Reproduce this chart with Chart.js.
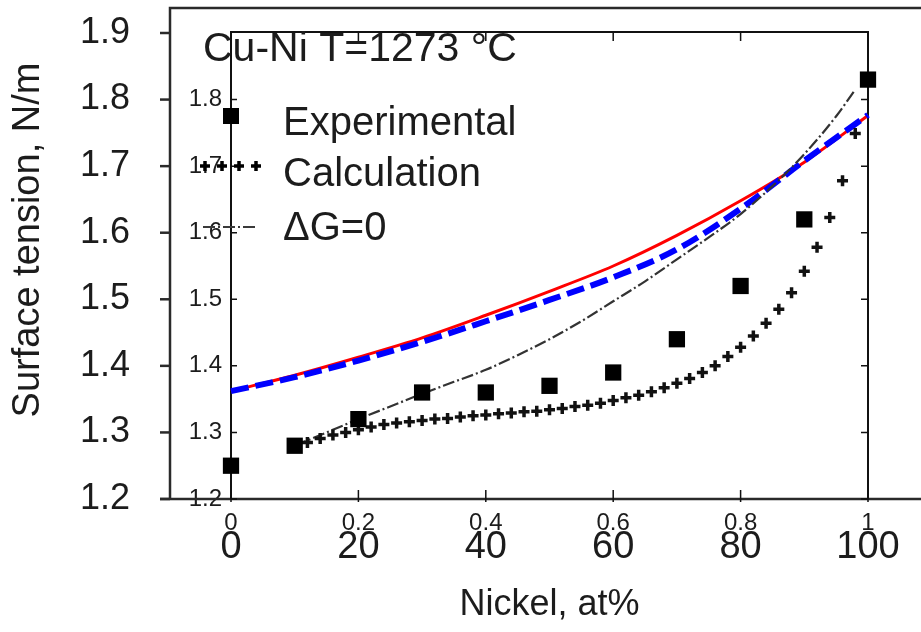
<!DOCTYPE html>
<html>
<head>
<meta charset="utf-8">
<script src="https://cdn.jsdelivr.net/npm/chart.js@4.4.1/dist/chart.umd.min.js"></script>
<style>
  html, body { margin: 0; padding: 0; background: #fff; }
  #wrap { width: 921px; height: 632px; }
</style>
</head>
<body>
<div id="wrap"><canvas id="c" width="921" height="632"></canvas></div>
<script>
// Surface tension of liquid Cu-Ni alloys, T = 1273 °C
const nickelExp  = [0, 10, 20, 30, 40, 50, 60, 70, 80, 90, 100];
const sigmaExp   = [1.25, 1.28, 1.32, 1.36, 1.36, 1.37, 1.39, 1.44, 1.52, 1.62, 1.83];

const nickelCalc = [10, 12, 14, 16, 18, 20, 22, 24, 26, 28, 30, 32, 34, 36, 38, 40, 42, 44, 46, 48,
                    50, 52, 54, 56, 58, 60, 62, 64, 66, 68, 70, 72, 74, 76, 78, 80, 82, 84, 86, 88,
                    90, 92, 94, 96, 98, 100];
const sigmaCalc  = [1.280, 1.285, 1.291, 1.296, 1.300, 1.304, 1.308, 1.312, 1.314, 1.316,
                    1.318, 1.320, 1.321, 1.323, 1.325, 1.326, 1.328, 1.329, 1.331, 1.332,
                    1.334, 1.336, 1.339, 1.341, 1.344, 1.348, 1.352, 1.356, 1.361, 1.367,
                    1.374, 1.381, 1.390, 1.400, 1.414, 1.428, 1.445, 1.464, 1.485, 1.510,
                    1.542, 1.578, 1.623, 1.678, 1.749, 1.830];

const nickelDG0  = [10, 15, 20, 25, 30, 35, 40, 45, 50, 55, 60, 65, 70, 75, 80, 85, 90, 95, 98];
const sigmaDG0   = [1.280, 1.300, 1.320, 1.339, 1.358, 1.376, 1.394, 1.416, 1.440, 1.467,
                    1.497, 1.527, 1.560, 1.593, 1.628, 1.670, 1.718, 1.775, 1.815];

const nickelModel = [0, 10, 20, 30, 40, 50, 60, 70, 80, 90, 100];
const sigmaRed    = [1.362, 1.386, 1.413, 1.442, 1.476, 1.512, 1.550, 1.596, 1.648, 1.706, 1.776];
const sigmaBlue   = [1.362, 1.383, 1.408, 1.436, 1.467, 1.499, 1.533, 1.575, 1.636, 1.708, 1.777];

const outerYTicks = ['1.2', '1.3', '1.4', '1.5', '1.6', '1.7', '1.8', '1.9'];
const innerYTicks = ['1.2', '1.3', '1.4', '1.5', '1.6', '1.7', '1.8'];
const outerXTicks = ['0', '20', '40', '60', '80', '100'];
const innerXTicks = ['0', '0.2', '0.4', '0.6', '0.8', '1'];

const FONT = '"Liberation Sans", Arial, Helvetica, sans-serif';
const INK = '#1c1c1c';

const pts = (xs, ys) => xs.map((x, i) => ({ x: x, y: ys[i] }));

function fixedTicks(labels, factor) {
  return function (scale) {
    scale.ticks = labels.map(t => ({ value: parseFloat(t) * factor }));
  };
}

// axis boxes keep a fixed size and ask for no extra margin
function fixedWidth(w) {
  return function (s) { s.width = w; s.paddingTop = 0; s.paddingBottom = 0; };
}
function fixedHeight(h) {
  return function (s) { s.height = h; s.paddingLeft = 0; s.paddingRight = 0; };
}

// frame, tick marks, legend and the rotated y title
const decorations = {
  id: 'decorations',
  beforeDatasetsDraw(chart) {
    const ctx = chart.ctx;
    const ca = chart.chartArea;
    const xs = chart.scales.x;
    const ys = chart.scales.y;
    const outerLeft = chart.scales.yOuter.right;
    ctx.save();
    ctx.strokeStyle = '#2a2a2a';
    ctx.lineCap = 'butt';

    // outer frame
    ctx.lineWidth = 2.5;
    ctx.beginPath();
    ctx.moveTo(chart.width, 8);
    ctx.lineTo(outerLeft, 8);
    ctx.lineTo(outerLeft, ca.bottom);
    ctx.stroke();
    ctx.beginPath();
    ctx.moveTo(outerLeft - 10, ca.bottom);
    ctx.lineTo(chart.width, ca.bottom);
    ctx.stroke();
    outerYTicks.forEach(t => {
      const y = ys.getPixelForValue(parseFloat(t));
      ctx.beginPath();
      ctx.moveTo(outerLeft - 10, y);
      ctx.lineTo(outerLeft, y);
      ctx.stroke();
    });

    // inner plot box
    ctx.strokeStyle = '#111';
    ctx.lineWidth = 2;
    ctx.beginPath();
    ctx.moveTo(ca.left, ca.bottom);
    ctx.lineTo(ca.left, ca.top - 1);
    ctx.lineTo(ca.right, ca.top - 1);
    ctx.lineTo(ca.right, ca.bottom);
    ctx.stroke();

    ctx.lineWidth = 1.5;
    innerYTicks.forEach(t => {
      const y = ys.getPixelForValue(parseFloat(t));
      ctx.beginPath();
      ctx.moveTo(ca.left, y); ctx.lineTo(ca.left + 6, y);
      ctx.moveTo(ca.right, y); ctx.lineTo(ca.right - 7, y);
      ctx.stroke();
    });
    innerXTicks.forEach(t => {
      const x = xs.getPixelForValue(parseFloat(t) * 100);
      ctx.beginPath();
      ctx.moveTo(x, ca.bottom + 3); ctx.lineTo(x, ca.bottom - 9);
      ctx.moveTo(x, ca.top - 1); ctx.lineTo(x, ca.top + 8);
      ctx.stroke();
    });
    ctx.restore();
  },
  afterDraw(chart) {
    const ctx = chart.ctx;
    ctx.save();
    ctx.fillStyle = INK;
    ctx.textBaseline = 'middle';
    ctx.textAlign = 'left';

    // y axis title
    ctx.save();
    ctx.font = '38px ' + FONT;
    ctx.translate(29, 240);
    ctx.rotate(-Math.PI / 2);
    ctx.textAlign = 'center';
    ctx.fillText('Surface tension, N/m', 0, 0);
    ctx.restore();

    // legend
    ctx.font = '41px ' + FONT;
    ctx.fillText('Cu-Ni T=1273 °C', 203, 50);
    ctx.font = '40px ' + FONT;
    ctx.fillText('Experimental', 283, 124);
    ctx.fillText('Calculation', 283, 175);
    ctx.fillText('\u0394G=0', 283, 229);

    ctx.fillStyle = '#000';
    ctx.fillRect(223, 108, 16, 16);

    ctx.strokeStyle = '#000';
    ctx.lineWidth = 3.5;
    [205, 222, 239, 256].forEach(x => {
      ctx.beginPath();
      ctx.moveTo(x - 5, 166); ctx.lineTo(x + 5, 166);
      ctx.moveTo(x, 161); ctx.lineTo(x, 171);
      ctx.stroke();
    });

    ctx.strokeStyle = '#3a3a3a';
    ctx.lineWidth = 2;
    ctx.setLineDash([12, 3, 2, 3]);
    ctx.beginPath();
    ctx.moveTo(203, 227); ctx.lineTo(258, 227);
    ctx.stroke();
    ctx.restore();
  }
};

new Chart(document.getElementById('c'), {
  type: 'scatter',
  data: {
    datasets: [
      {
        label: 'Experimental',
        data: pts(nickelExp, sigmaExp),
        pointStyle: 'rect',
        pointRadius: 11.5,
        pointHoverRadius: 11.5,
        backgroundColor: '#000',
        borderColor: '#000',
        borderWidth: 0,
        clip: false
      },
      {
        label: 'Calculation',
        data: pts(nickelCalc, sigmaCalc),
        pointStyle: 'cross',
        pointRadius: 5.5,
        pointHoverRadius: 5.5,
        borderColor: '#111',
        borderWidth: 3.5,
        clip: false
      },
      {
        label: '\u0394G=0',
        data: pts(nickelDG0, sigmaDG0),
        showLine: true,
        pointRadius: 0,
        borderColor: '#333',
        borderWidth: 2.2,
        borderDash: [12, 3, 2, 3],
        cubicInterpolationMode: 'monotone'
      },
      {
        label: 'model (dashed)',
        data: pts(nickelModel, sigmaBlue),
        showLine: true,
        pointRadius: 0,
        borderColor: '#0000ff',
        borderWidth: 6,
        borderDash: [18, 7],
        cubicInterpolationMode: 'monotone',
        clip: false
      },
      {
        label: 'model (solid)',
        data: pts(nickelModel, sigmaRed),
        showLine: true,
        pointRadius: 0,
        borderColor: '#ff0000',
        borderWidth: 3,
        cubicInterpolationMode: 'monotone',
        clip: false
      }
    ]
  },
  options: {
    responsive: false,
    devicePixelRatio: 1,
    animation: false,
    layout: { padding: { left: 0, right: 53, top: 33, bottom: 0 } },
    plugins: { legend: { display: false }, tooltip: { enabled: false } },
    scales: {
      x: {
        type: 'linear', position: 'bottom', weight: 0, min: 0, max: 100,
        afterBuildTicks: fixedTicks(innerXTicks, 100),
        afterFit: fixedHeight(1),
        grid: { display: false, drawTicks: false },
        border: { display: false },
        ticks: {
          mirror: true, padding: -39, maxRotation: 0, autoSkip: false, color: INK,
          font: { family: FONT, size: 24 },
          callback: (v, i) => innerXTicks[i]
        }
      },
      xOuter: {
        type: 'linear', position: 'bottom', weight: 1, min: 0, max: 100,
        afterBuildTicks: fixedTicks(outerXTicks, 1),
        afterFit: fixedHeight(132),
        grid: { display: false, drawTicks: false },
        border: { display: false },
        ticks: {
          padding: 25, maxRotation: 0, autoSkip: false, color: INK,
          font: { family: FONT, size: 38 },
          callback: (v, i) => outerXTicks[i]
        },
        title: {
          display: true, text: 'Nickel, at%', color: INK,
          font: { family: FONT, size: 36 },
          padding: { top: 0, bottom: 5 }
        }
      },
      y: {
        type: 'linear', position: 'left', weight: 0, min: 1.2, max: 1.9,
        afterBuildTicks: fixedTicks(innerYTicks, 1),
        afterFit: fixedWidth(61),
        grid: { display: false, drawTicks: false },
        border: { display: false },
        ticks: {
          padding: 9, autoSkip: false, color: INK,
          font: { family: FONT, size: 24 },
          callback: (v, i) => innerYTicks[i]
        }
      },
      yOuter: {
        type: 'linear', position: 'left', weight: 1, min: 1.2, max: 1.9,
        afterBuildTicks: fixedTicks(outerYTicks, 1),
        afterFit: fixedWidth(170),
        grid: { display: false, drawTicks: false },
        border: { display: false },
        ticks: {
          padding: 40, autoSkip: false, color: INK,
          font: { family: FONT, size: 36 },
          callback: (v, i) => outerYTicks[i]
        }
      }
    }
  },
  plugins: [decorations]
});
</script>
</body>
</html>
